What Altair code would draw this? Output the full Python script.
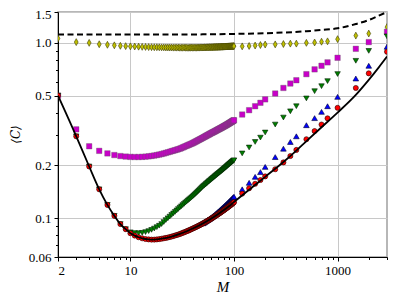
import altair as alt
import pandas as pd

# ---------------- data ----------------
M_dense = list(range(2, 101))
M_sparse = [120, 140, 160, 180, 200, 250, 300, 350, 400, 500, 600, 700, 800, 1000, 1500, 2000, 3000]

red_dense = [0.500, 0.293, 0.197, 0.146, 0.119, 0.103, 0.0925, 0.0865, 0.0820,
             0.0795, 0.0778, 0.0767, 0.0760, 0.0756, 0.0754, 0.0754, 0.0756, 0.0759, 0.0763,
             0.0767, 0.0771, 0.0775, 0.0780, 0.0785, 0.0790, 0.0796, 0.0801, 0.0806, 0.0812,
             0.0818, 0.0824, 0.0830, 0.0836, 0.0842, 0.0848, 0.0854, 0.0860, 0.0866, 0.0872,
             0.0878, 0.0884, 0.0890, 0.0896, 0.0902, 0.0908, 0.0914, 0.0920, 0.0926, 0.0932,
             0.0938, 0.0944, 0.0950, 0.0956, 0.0962, 0.0968, 0.0974, 0.0980, 0.0986, 0.0992,
             0.0998, 0.1004, 0.1010, 0.1016, 0.1022, 0.1028, 0.1034, 0.1040, 0.1046, 0.1052,
             0.1058, 0.1064, 0.1070, 0.1076, 0.1082, 0.1088, 0.1094, 0.1100, 0.1106, 0.1112,
             0.1118, 0.1124, 0.1130, 0.1136, 0.1142, 0.1148, 0.1154, 0.1160, 0.1166, 0.1172,
             0.1178, 0.1184, 0.1190, 0.1196, 0.1202, 0.1208, 0.1214, 0.1220, 0.1226, 0.1232]
red_sparse = [0.138, 0.148, 0.157, 0.165, 0.173, 0.190, 0.208, 0.226, 0.245, 0.282,
              0.314, 0.342, 0.371, 0.426, 0.553, 0.670, 0.890]

M_blue_dense = list(range(50, 101))
blue_dense = [0.0934, 0.0941, 0.0948, 0.0955, 0.0962, 0.0969, 0.0976, 0.0983, 0.0990, 0.0997, 0.1004,
              0.1012, 0.1020, 0.1028, 0.1036, 0.1044, 0.1052, 0.1060, 0.1068, 0.1076, 0.1084,
              0.1092, 0.1100, 0.1108, 0.1116, 0.1124, 0.1132, 0.1140, 0.1148, 0.1156, 0.1164,
              0.1172, 0.1180, 0.1188, 0.1196, 0.1204, 0.1212, 0.1220, 0.1228, 0.1236, 0.1244,
              0.1252, 0.1260, 0.1268, 0.1276, 0.1284, 0.1292, 0.1300, 0.1308, 0.1316, 0.1324]
blue_sparse = [0.146, 0.159, 0.172, 0.183, 0.196, 0.223, 0.249, 0.272, 0.293, 0.339,
               0.372, 0.404, 0.435, 0.492, 0.626, 0.740, 0.950]

green_dense = [0.500, 0.293, 0.197, 0.146, 0.119, 0.103, 0.0925, 0.0865, 0.0830,
               0.0822, 0.0820, 0.0824, 0.0832, 0.0843, 0.0857, 0.0872, 0.0888, 0.0905, 0.0925,
               0.0950, 0.0975, 0.0998, 0.1020, 0.1042, 0.1064, 0.1085, 0.1106, 0.1127, 0.1148,
               0.1168, 0.1187, 0.1206, 0.1225, 0.1243, 0.1261, 0.1279, 0.1296, 0.1313, 0.1330,
               0.1348, 0.1366, 0.1384, 0.1402, 0.1420, 0.1438, 0.1456, 0.1474, 0.1492, 0.1510,
               0.1525, 0.1540, 0.1555, 0.1570, 0.1585, 0.1600, 0.1614, 0.1628, 0.1642, 0.1656,
               0.1670, 0.1684, 0.1697, 0.1710, 0.1723, 0.1736, 0.1749, 0.1762, 0.1775, 0.1788,
               0.1800, 0.1812, 0.1824, 0.1836, 0.1848, 0.1860, 0.1872, 0.1884, 0.1896, 0.1908,
               0.1920, 0.1932, 0.1944, 0.1956, 0.1968, 0.1980, 0.1992, 0.2004, 0.2016, 0.2028,
               0.2039, 0.2050, 0.2061, 0.2072, 0.2083, 0.2094, 0.2105, 0.2116, 0.2127, 0.2138]
green_sparse = [0.234, 0.253, 0.272, 0.288, 0.308, 0.342, 0.375, 0.407, 0.435, 0.482,
                0.530, 0.566, 0.605, 0.664, 0.790, 0.900, 1.090]

magenta_dense = [0.500, 0.321, 0.257, 0.242, 0.234, 0.229, 0.226, 0.2245, 0.2235,
                 0.2232, 0.2232, 0.2236, 0.2243, 0.2252, 0.2263, 0.2276, 0.2290, 0.2305, 0.2320,
                 0.2338, 0.2356, 0.2374, 0.2392, 0.2410, 0.2426, 0.2442, 0.2458, 0.2474, 0.2490,
                 0.2510, 0.2530, 0.2550, 0.2570, 0.2590, 0.2608, 0.2626, 0.2644, 0.2662, 0.2680,
                 0.2700, 0.2720, 0.2740, 0.2760, 0.2780, 0.2799, 0.2818, 0.2837, 0.2856, 0.2875,
                 0.2893, 0.2911, 0.2929, 0.2947, 0.2965, 0.2982, 0.2999, 0.3016, 0.3033, 0.3050,
                 0.3065, 0.3080, 0.3095, 0.3110, 0.3125, 0.3140, 0.3155, 0.3170, 0.3185, 0.3200,
                 0.3214, 0.3228, 0.3242, 0.3256, 0.3270, 0.3284, 0.3298, 0.3312, 0.3326, 0.3340,
                 0.3354, 0.3368, 0.3382, 0.3396, 0.3410, 0.3424, 0.3438, 0.3452, 0.3466, 0.3480,
                 0.3494, 0.3508, 0.3522, 0.3536, 0.3550, 0.3564, 0.3578, 0.3592, 0.3606, 0.3620]
magenta_sparse = [0.390, 0.413, 0.435, 0.455, 0.476, 0.514, 0.553, 0.586, 0.612, 0.663,
                  0.706, 0.740, 0.774, 0.822, 0.925, 1.010, 1.156]

yellow_dense = [1.060, 1.010, 1.000, 0.982, 0.975, 0.968, 0.962, 0.958, 0.955,
                0.953, 0.951, 0.949, 0.948, 0.946, 0.945, 0.944, 0.944, 0.943, 0.942,
                0.942, 0.941, 0.941, 0.940, 0.941, 0.939, 0.940, 0.939, 0.940, 0.938,
                0.939, 0.938, 0.940, 0.938, 0.939, 0.937, 0.939, 0.938, 0.940, 0.938,
                0.939, 0.940, 0.938, 0.939, 0.941, 0.939, 0.940, 0.942, 0.940, 0.941,
                0.941, 0.943, 0.941, 0.942, 0.944, 0.942, 0.943, 0.945, 0.943, 0.944,
                0.945, 0.944, 0.946, 0.945, 0.947, 0.946, 0.947, 0.948, 0.947, 0.948,
                0.949, 0.948, 0.950, 0.949, 0.950, 0.951, 0.950, 0.951, 0.952, 0.951,
                0.952, 0.953, 0.952, 0.953, 0.954, 0.953, 0.954, 0.955, 0.954, 0.955,
                0.955, 0.956, 0.955, 0.956, 0.957, 0.956, 0.957, 0.957, 0.958, 0.958]
yellow_sparse = [0.955, 0.960, 0.965, 0.972, 0.978, 0.980, 0.985, 0.990, 0.990, 1.000,
                 1.005, 1.015, 1.020, 1.050, 1.100, 1.130, 1.230]

M_theory = [2, 3, 4, 5, 6, 7, 8, 9, 10, 11, 12, 13, 14, 15, 16, 17, 18,
            20, 25, 30, 35, 40, 50, 60, 70, 80, 90, 100,
            150, 200, 300, 400, 500, 700, 1000, 1500, 2000, 2500, 3000]
theory = [0.500, 0.293, 0.197, 0.146, 0.119, 0.103, 0.0925, 0.0865, 0.0820, 0.0795, 0.0778,
          0.0767, 0.0760, 0.0756, 0.0754, 0.0754, 0.0756,
          0.0763, 0.0785, 0.0812, 0.0842, 0.0872, 0.0932, 0.0992, 0.1052, 0.1112, 0.1172, 0.1235,
          0.150, 0.172, 0.209, 0.243, 0.275, 0.330, 0.400, 0.505, 0.615, 0.725, 0.835]

M_dash = [2, 10, 50, 100, 200, 300, 500, 700, 1000, 1500, 2000, 2500, 3000]
dash = [1.115, 1.115, 1.118, 1.125, 1.135, 1.145, 1.165, 1.185, 1.210, 1.280, 1.350, 1.430, 1.500]

x_major = [2, 10, 100, 1000]
x_minor = [3, 4, 5, 6, 7, 8, 9, 20, 30, 40, 50, 60, 70, 80, 90,
           200, 300, 400, 500, 600, 700, 800, 900, 2000, 3000]
y_major = [0.06, 0.1, 0.2, 0.5, 1.0, 1.5]
y_minor = [0.07, 0.08, 0.09, 0.3, 0.4, 0.6, 0.7, 0.8, 0.9]

# ---------------- build tables ----------------
def table(ms, vs):
    return pd.DataFrame({"M": ms, "C": vs})

red_df = table(M_dense + M_sparse, red_dense + red_sparse)
blue_df = table(M_blue_dense + M_sparse, blue_dense + blue_sparse)
green_df = table(M_dense + M_sparse, green_dense + green_sparse)
mag_df = table(M_dense + M_sparse, magenta_dense + magenta_sparse)
yel_df = table(M_dense + M_sparse, yellow_dense + yellow_sparse)
theory_df = table(M_theory, theory)
dash_df = table(M_dash, dash)

FONT = "Liberation Serif"
xscale = alt.Scale(type="log", domain=[2, 3000], nice=False)
yscale = alt.Scale(type="log", domain=[0.06, 1.5], nice=False)

ax_common = dict(labelFont=FONT, labelFontSize=13, labelColor="black",
                 tickColor="black", domainColor="black", tickWidth=1, domainWidth=1)

x_major_axis = alt.Axis(values=x_major, format="d", tickSize=4, labelPadding=3, grid=True,
                        gridColor="#c8c8c8", gridWidth=1, title="M", titleFont=FONT,
                        titleFontSize=15, titleFontStyle="italic", titleFontWeight="normal",
                        titleColor="black", titlePadding=2, orient="bottom", **ax_common)
y_major_axis = alt.Axis(values=y_major,
                        labelExpr="datum.value == 1 ? '1.0' : format(datum.value, '.2~f')",
                        labelOffset={"condition": {"test": "datum.value == 1.5", "value": 2.5},
                                     "value": 0},
                        tickSize=4, labelPadding=3, grid=True, gridColor="#c8c8c8", gridWidth=1,
                        title="⟨C⟩", titleFont="DejaVu Serif", titleFontSize=12,
                        titleFontStyle="italic", titleFontWeight="normal", titleColor="black",
                        titleX=-36, titleY=122, orient="left", **ax_common)
x_minor_axis = alt.Axis(values=x_minor, labels=False, tickSize=2.5, grid=False, title=None,
                        domain=False, orient="bottom", tickColor="black", tickWidth=1)
y_minor_axis = alt.Axis(values=y_minor, labels=False, tickSize=2.5, grid=False, title=None,
                        domain=False, orient="left", tickColor="black", tickWidth=1)

minor_layer = alt.Chart(theory_df).mark_line(opacity=0).encode(
    x=alt.X("M:Q", scale=xscale, axis=x_minor_axis),
    y=alt.Y("C:Q", scale=yscale, axis=y_minor_axis))
major_layer = alt.Chart(theory_df).mark_line(opacity=0).encode(
    x=alt.X("M:Q", scale=xscale, axis=x_major_axis),
    y=alt.Y("C:Q", scale=yscale, axis=y_major_axis))

def enc(chart):
    return chart.encode(x=alt.X("M:Q", scale=xscale, axis=None),
                        y=alt.Y("C:Q", scale=yscale, axis=None))

dash_layer = enc(alt.Chart(dash_df).mark_line(color="black", strokeWidth=2,
                                               strokeDash=[6, 3.5], clip=True, interpolate="monotone"))
yel_layer = enc(alt.Chart(yel_df).mark_point(shape="M0,-1L0.55,0L0,1L-0.55,0Z", size=48, filled=True,
                                              fill="#bfbf00", stroke="#3a3a00", strokeWidth=0.6,
                                              opacity=1, clip=True))
mag_layer = enc(alt.Chart(mag_df).mark_point(shape="square", size=30, filled=True, fill="#c800c8",
                                              stroke="#5a5a5a", strokeWidth=0.35, opacity=1, clip=True))
green_layer = enc(alt.Chart(green_df).mark_point(shape="triangle-down", size=30, filled=True,
                                                  fill="#008000", stroke="#002000", strokeWidth=0.6,
                                                  opacity=1, clip=True))
blue_layer = enc(alt.Chart(blue_df).mark_point(shape="triangle-up", size=32, filled=True,
                                                fill="#0000ff", stroke="#000030", strokeWidth=0.6,
                                                opacity=1, clip=True))
red_layer = enc(alt.Chart(red_df).mark_point(shape="circle", size=26, filled=True, fill="#ff0000",
                                              stroke="#200000", strokeWidth=0.6, opacity=1, clip=True))
theory_layer = enc(alt.Chart(theory_df).mark_line(color="black", strokeWidth=1.8, clip=True,
                                                   interpolate="monotone"))

chart = alt.layer(minor_layer, major_layer, dash_layer, yel_layer, mag_layer, green_layer,
                  blue_layer, red_layer, theory_layer).resolve_axis(
    x="independent", y="independent"
).properties(
    width=329, height=245,
    autosize=alt.AutoSizeParams(type="none"),
    padding={"left": 50, "top": 4, "right": 3, "bottom": 36},
).configure_view(stroke="#a0a0a0", strokeWidth=1.5)

chart.save("out.html", embed_options={"renderer": "svg", "actions": False})
